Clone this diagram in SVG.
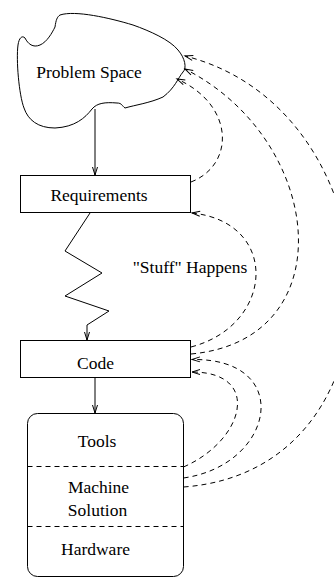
<svg xmlns="http://www.w3.org/2000/svg" width="334" height="577" viewBox="0 0 334 577">
<style>
.ln{fill:none;stroke:#000;stroke-width:1}
.dash{fill:none;stroke:#000;stroke-width:1;stroke-dasharray:5 4}
text{font-family:'Liberation Serif','Times New Roman',Times,serif;font-size:17.5px;fill:#000;text-anchor:middle}
</style>
<defs>
<marker id="ah" viewBox="-10 -5 12 10" markerWidth="12" markerHeight="10" refX="0" refY="0" orient="auto" markerUnits="userSpaceOnUse">
<path d="M-8,-2.5 L0,0 L-8,2.5" fill="none" stroke="#000" stroke-width="1" stroke-dasharray="none"/>
</marker>
</defs>
<rect width="334" height="577" fill="#fff"/>
<g id="problem-space">
<path class="ln" d="M60,15 C75,10 110,18 133,25 C150,31 170,40 178,50 C185,58 187,68 183,72 C178,78 175,88 163,97 C150,103 135,105 125,108 C122,106 122,103 117,103 C105,102 97,103 92,109 C85,118 75,127 55,128 C38,128 28,120 24,108 C19,95 16,60 18,45 C19,38 22,35 25,38 C28,44 33,48 40,45 C47,42 52,33 55,27 C56,20 57,17 60,15 Z"/>
<text x="89" y="78" font-family="Liberation Serif, serif">Problem Space</text>
</g>
<g id="requirements">
<rect class="ln" x="20.5" y="175.5" width="170" height="37"/>
<text x="99" y="201" font-family="Liberation Serif, serif">Requirements</text>
</g>
<g id="code">
<rect class="ln" x="20.5" y="340.5" width="170" height="37"/>
<text x="95.5" y="368.5" font-family="Liberation Serif, serif">Code</text>
</g>
<g id="machine">
<rect class="ln" x="27.5" y="413.5" width="156" height="163" rx="10" ry="10"/>
<line class="dash" x1="27.5" y1="466.5" x2="183.5" y2="466.5"/>
<line class="dash" x1="27.5" y1="526.5" x2="183.5" y2="526.5"/>
<text x="97" y="446.5" font-family="Liberation Serif, serif">Tools</text>
<text x="98.5" y="493" font-family="Liberation Serif, serif">Machine</text>
<text x="97.5" y="516" font-family="Liberation Serif, serif">Solution</text>
<text x="95.5" y="555" font-family="Liberation Serif, serif">Hardware</text>
</g>
<text x="190" y="273" font-family="Liberation Serif, serif">"Stuff" Happens</text>
<g id="connectors">
<path class="ln" d="M95,109 L95,175" marker-end="url(#ah)"/>
<path class="ln" d="M90,213 L65,251 L102,273 L65,296 L109,311 L87,325 L87,340" marker-end="url(#ah)"/>
<path class="ln" d="M95,378 L95,413" marker-end="url(#ah)"/>
<path class="dash" d="M191,182 C235,165 235,105 177,79" marker-end="url(#ah)"/>
<path class="dash" d="M191,347 C275,325 280,222 192,213" marker-end="url(#ah)"/>
<path class="dash" d="M191,354 C345,340 325,140 185,69" marker-end="url(#ah)"/>
<path class="dash" d="M183.5,467 C245,440 262,372 192,372" marker-end="url(#ah)"/>
<path class="dash" d="M183.5,478 C275,465 295,358 192,359.5" marker-end="url(#ah)"/>
<path class="dash" d="M183.5,487 C415,470 400,110 185,56" marker-end="url(#ah)"/>
</g>
</svg>
